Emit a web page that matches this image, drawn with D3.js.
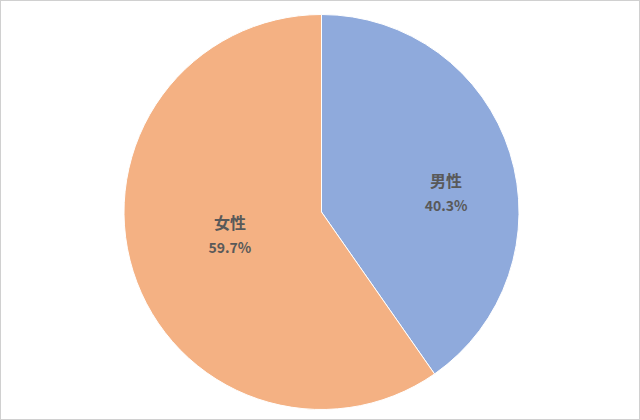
<!DOCTYPE html>
<html>
<head>
<meta charset="utf-8">
<script src="https://cdn.jsdelivr.net/npm/d3@7"></script>
<style>
  html, body { margin: 0; padding: 0; background: #fff; }
  svg { display: block; }
</style>
</head>
<body>
<div id="chart"></div>
<script>
const categories = ["男性", "女性"];
const values = [40.3, 59.7];
const colors = ["#8faadc", "#f4b183"];

const svgWidth = 640;
const svgHeight = 420;
const cx = 321.5;
const cy = 212;
const radius = 197.5;
// label nudges (px) from the mid-radius centroid, like Excel's best-fit placement
const labelNudge = [[21, 13], [12, -10]];

const svg = d3.select("#chart")
  .append("svg")
  .attr("width", svgWidth)
  .attr("height", svgHeight);

// outer frame
svg.append("rect")
  .attr("x", 0.5)
  .attr("y", 0.5)
  .attr("width", svgWidth - 1)
  .attr("height", svgHeight - 1)
  .attr("fill", "#fff")
  .attr("stroke", "#d0d0d0");

const g = svg.append("g")
  .attr("transform", `translate(${cx},${cy})`);

const data = categories.map((c, i) => ({ name: c, value: values[i], color: colors[i] }));

const pie = d3.pie()
  .value(d => d.value)
  .sort(null);

const arc = d3.arc().innerRadius(0).outerRadius(radius);
const labelArc = d3.arc().innerRadius(radius * 0.55).outerRadius(radius * 0.55);

const arcs = pie(data);

g.selectAll("path")
  .data(arcs)
  .enter()
  .append("path")
  .attr("d", arc)
  .attr("fill", d => d.data.color)
  .attr("stroke", "#fff")
  .attr("stroke-width", 1);

const labels = g.selectAll("g.label")
  .data(arcs)
  .enter()
  .append("g")
  .attr("class", "label")
  .attr("transform", (d, i) => {
    const [x, y] = labelArc.centroid(d);
    return `translate(${x + labelNudge[i][0]},${y + labelNudge[i][1]})`;
  });

labels.append("text")
  .attr("text-anchor", "middle")
  .attr("y", -5.5)
  .attr("font-family", "'Noto Sans CJK JP', sans-serif")
  .attr("font-size", 16)
  .attr("font-weight", "bold")
  .attr("fill", "#595959")
  .text(d => d.data.name);

labels.append("text")
  .attr("text-anchor", "middle")
  .attr("y", 18.5)
  .attr("font-family", "'Noto Sans CJK JP', sans-serif")
  .attr("font-size", 14)
  .attr("font-weight", "bold")
  .attr("fill", "#595959")
  .text(d => d.data.value.toFixed(1) + "%");
</script>
</body>
</html>
